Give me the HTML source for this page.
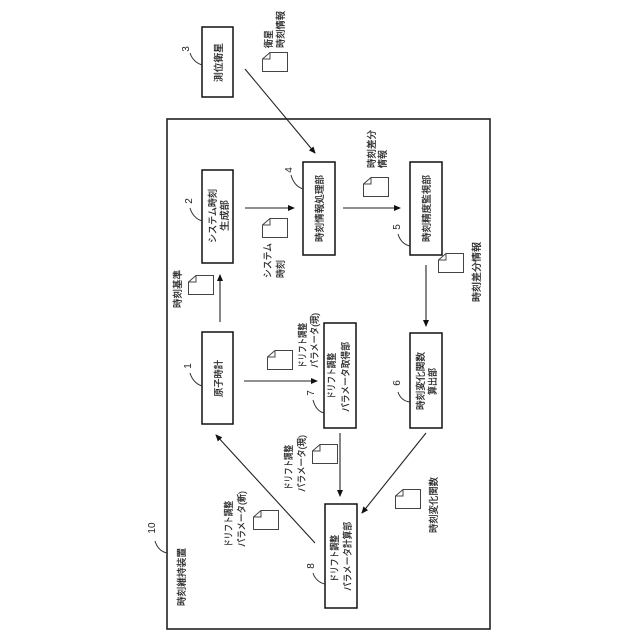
<!DOCTYPE html>
<html><head><meta charset="utf-8"><style>
html,body{margin:0;padding:0;background:#fff}
svg{display:block}
text{font-family:"Liberation Sans","Noto Sans CJK JP",sans-serif;font-size:9.5px;fill:#222;stroke:#222;stroke-width:.2}
.n{font-size:10px;stroke:none}
</style></head><body>
<svg width="640" height="640" viewBox="0 0 640 640" xmlns="http://www.w3.org/2000/svg">
<defs>
<marker id="a" markerWidth="7" markerHeight="6" refX="6" refY="3" orient="auto" markerUnits="userSpaceOnUse"><path d="M0,0L7,3L0,6z" fill="#111"/></marker>
<g id="doc"><path d="M8,.5H25.5V19.5H.5V7z M8,.5V7H.5" fill="#fff" stroke="#444" stroke-width="1"/></g>
</defs>
<rect x="167" y="119" width="323" height="510" fill="none" stroke="#222" stroke-width="1.6"/>
<g fill="#fff" stroke="#111" stroke-width="1.5">
<rect x="202" y="27" width="31" height="70"/>
<rect x="202" y="170" width="31" height="93"/>
<rect x="303" y="162" width="32" height="93"/>
<rect x="410" y="162" width="32" height="93"/>
<rect x="202" y="332" width="31" height="92"/>
<rect x="324" y="323" width="32" height="105"/>
<rect x="410" y="333" width="32" height="95"/>
<rect x="325" y="504" width="32" height="104"/>
</g>
<g stroke="#222" stroke-width="1.1" fill="none" marker-end="url(#a)">
<path d="M245,69L315,153"/>
<path d="M245,208H294"/>
<path d="M343,208H400"/>
<path d="M220,322V275"/>
<path d="M244,381H317"/>
<path d="M340,433V496"/>
<path d="M426,265V326"/>
<path d="M426,433L362,513"/>
<path d="M315,543L216,435"/>
</g>
<g stroke="#333" stroke-width="1" fill="none">
<path d="M190,53Q193,62 202,65"/>
<path d="M190,208Q193,218 202,221"/>
<path d="M291,175Q294,186 303,189"/>
<path d="M398,234Q401,244 410,246"/>
<path d="M190,373Q193,383 202,386"/>
<path d="M313,400Q316,411 324,413"/>
<path d="M398,392Q401,401 410,402"/>
<path d="M313,573Q316,582 325,584"/>
<path d="M155,541Q158,551 167,553"/>
</g>
<use href="#doc" x="262" y="52"/>
<use href="#doc" x="262" y="218"/>
<use href="#doc" x="188" y="275"/>
<use href="#doc" x="363" y="177"/>
<use href="#doc" x="438" y="253"/>
<use href="#doc" x="267" y="350"/>
<use href="#doc" x="312" y="444"/>
<use href="#doc" x="253" y="510"/>
<use href="#doc" x="395" y="489"/>

<g lengthAdjust="spacingAndGlyphs">
<text lengthAdjust="spacingAndGlyphs" transform="translate(272,48) rotate(-90)" textLength="18">衛星</text>
<text lengthAdjust="spacingAndGlyphs" transform="translate(284,48) rotate(-90)" textLength="37">時刻情報</text>
<text lengthAdjust="spacingAndGlyphs" transform="translate(222,82) rotate(-90)" textLength="39">測位衛星</text>
<text lengthAdjust="spacingAndGlyphs" transform="translate(216,243) rotate(-90)" textLength="54">システム時刻</text>
<text lengthAdjust="spacingAndGlyphs" transform="translate(228,231) rotate(-90)" textLength="31">生成部</text>
<text lengthAdjust="spacingAndGlyphs" transform="translate(323,242) rotate(-90)" textLength="67">時刻情報処理部</text>
<text lengthAdjust="spacingAndGlyphs" transform="translate(271,278) rotate(-90)" textLength="35">システム</text>
<text lengthAdjust="spacingAndGlyphs" transform="translate(284,278) rotate(-90)" textLength="18">時刻</text>
<text lengthAdjust="spacingAndGlyphs" transform="translate(181,308) rotate(-90)" textLength="38">時刻基準</text>
<text lengthAdjust="spacingAndGlyphs" transform="translate(375,168) rotate(-90)" textLength="38">時刻差分</text>
<text lengthAdjust="spacingAndGlyphs" transform="translate(386,168) rotate(-90)" textLength="18">情報</text>
<text lengthAdjust="spacingAndGlyphs" transform="translate(430,242) rotate(-90)" textLength="67">時刻精度監視部</text>
<text lengthAdjust="spacingAndGlyphs" transform="translate(480,302) rotate(-90)" textLength="60">時刻差分情報</text>
<text lengthAdjust="spacingAndGlyphs" transform="translate(222,397) rotate(-90)" textLength="37">原子時計</text>
<text lengthAdjust="spacingAndGlyphs" transform="translate(306,368) rotate(-90)" textLength="45">ドリフト調整</text>
<text lengthAdjust="spacingAndGlyphs" transform="translate(318,368) rotate(-90)" textLength="55">パラメータ(現)</text>
<text lengthAdjust="spacingAndGlyphs" transform="translate(335,399) rotate(-90)" textLength="46">ドリフト調整</text>
<text lengthAdjust="spacingAndGlyphs" transform="translate(349,412) rotate(-90)" textLength="70">パラメータ取得部</text>
<text lengthAdjust="spacingAndGlyphs" transform="translate(292,490) rotate(-90)" textLength="45">ドリフト調整</text>
<text lengthAdjust="spacingAndGlyphs" transform="translate(305,492) rotate(-90)" textLength="57">パラメータ(現)</text>
<text lengthAdjust="spacingAndGlyphs" transform="translate(424,410) rotate(-90)" textLength="58">時刻変化関数</text>
<text lengthAdjust="spacingAndGlyphs" transform="translate(436,395) rotate(-90)" textLength="27">算出部</text>
<text lengthAdjust="spacingAndGlyphs" transform="translate(232,547) rotate(-90)" textLength="46">ドリフト調整</text>
<text lengthAdjust="spacingAndGlyphs" transform="translate(245,547) rotate(-90)" textLength="56">パラメータ(新)</text>
<text lengthAdjust="spacingAndGlyphs" transform="translate(338,582) rotate(-90)" textLength="47">ドリフト調整</text>
<text lengthAdjust="spacingAndGlyphs" transform="translate(351,591) rotate(-90)" textLength="69">パラメータ計算部</text>
<text lengthAdjust="spacingAndGlyphs" transform="translate(437,533) rotate(-90)" textLength="56">時刻変化関数</text>
<text lengthAdjust="spacingAndGlyphs" transform="translate(185,606) rotate(-90)" textLength="58">時刻維持装置</text>
</g>

<text class="n" transform="translate(189,49) rotate(-90)" text-anchor="middle">3</text>
<text class="n" transform="translate(192,201) rotate(-90)" text-anchor="middle">2</text>
<text class="n" transform="translate(292,170) rotate(-90)" text-anchor="middle">4</text>
<text class="n" transform="translate(400,227) rotate(-90)" text-anchor="middle">5</text>
<text class="n" transform="translate(191,366) rotate(-90)" text-anchor="middle">1</text>
<text class="n" transform="translate(314,393) rotate(-90)" text-anchor="middle">7</text>
<text class="n" transform="translate(400,383) rotate(-90)" text-anchor="middle">6</text>
<text class="n" transform="translate(314,566) rotate(-90)" text-anchor="middle">8</text>
<text class="n" transform="translate(155,528) rotate(-90)" text-anchor="middle">10</text>
</svg>
</body></html>
